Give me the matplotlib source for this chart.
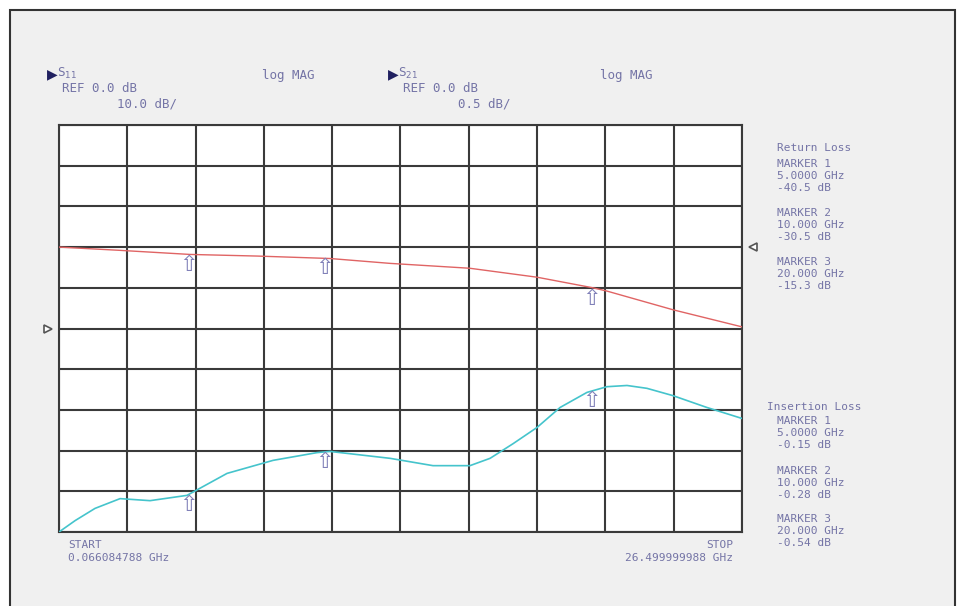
import numpy as np
import matplotlib
matplotlib.use("Agg")
import matplotlib.pyplot as plt
from matplotlib.patches import Rectangle
import matplotlib.transforms as mtransforms

# sweep (GHz)
f_start = 0.066084788
f_stop = 26.499999988

# S11 (return loss), 10 dB/div, ref 0 dB
s11_freq = [0.066, 0.69, 1.46, 2.43, 3.59, 5.02, 6.57, 8.35, 10.05, 10.55, 12.88, 14.54, 15.97,
            16.75, 17.64, 18.57, 19.46, 20.50, 21.27, 22.05, 22.82, 23.83, 25.14, 26.50]
s11_db = [-50.0, -47.2, -44.2, -41.8, -42.3, -41.0, -35.6, -32.4, -30.5, -30.2, -31.9, -33.7, -33.7,
          -31.9, -28.3, -24.3, -19.4, -15.7, -14.3, -14.0, -14.7, -16.5, -19.4, -22.1]

# S21 (insertion loss), 0.5 dB/div, ref 0 dB
s21_freq = [0.066, 2.43, 5.13, 7.73, 10.55, 12.88, 15.97, 18.57, 20.73, 21.27, 23.83, 26.50]
s21_db = [0.0, -0.04, -0.09, -0.11, -0.14, -0.20, -0.26, -0.37, -0.50, -0.54, -0.77, -0.98]

# markers
marker_pos = [5.06, 10.36, 20.66]
marker_s11_y = [-41.0, -30.4, -15.4]
marker_s21_y = [-0.10, -0.13, -0.52]
marker_freq_txt = ["5.0000 GHz", "10.000 GHz", "20.000 GHz"]
rl_txt = ["-40.5 dB", "-30.5 dB", "-15.3 dB"]
il_txt = ["-0.15 dB", "-0.28 dB", "-0.54 dB"]

txt_col = "#7474a6"
grid_col = "#3a3a3a"
mono = "DejaVu Sans Mono"
fs = 8

fig = plt.figure(figsize=(9.6, 6.06), dpi=100)
W, H = 960.0, 606.0

def fx(px):
    return px / W

def fy(py):
    return 1 - py / H

# outer frame
fig.patches.append(Rectangle((fx(10), -0.02), fx(945), fy(10) + 0.02, transform=fig.transFigure,
                             facecolor="#f0f0f0", edgecolor="#333333", lw=1.5, zorder=-5))

ax = fig.add_axes([fx(59), fy(532), fx(742 - 59), (532 - 125) / H])
ax.set_facecolor("white")
ax.set_xlim(f_start, f_stop)
ax.set_ylim(-50, 50)
ax.set_xticks(np.linspace(f_start, f_stop, 11))
ax.set_yticks(np.linspace(-50, 50, 11))
ax.grid(True, color=grid_col, lw=1.5)
ax.tick_params(length=0, labelbottom=False, labelleft=False)
for s in ax.spines.values():
    s.set_color(grid_col)
    s.set_linewidth(1.5)
ax.plot(s11_freq, s11_db, color="#45c4cc", lw=1.2, zorder=3)

ax2 = ax.twinx()
ax2.set_ylim(-3.5, 1.5)
ax2.tick_params(length=0, labelright=False)
for s in ax2.spines.values():
    s.set_visible(False)
ax2.patch.set_visible(False)
ax2.plot(s21_freq, s21_db, color="#e06464", lw=1.0, zorder=3)

# marker glyphs
for i in range(3):
    ax.text(marker_pos[i], marker_s11_y[i], "\u21e7", ha="center", va="top", fontsize=16,
            color="#8080b8", zorder=4)
    ax2.text(marker_pos[i], marker_s21_y[i], "\u21e7", ha="center", va="top", fontsize=16,
             color="#8080b8", zorder=4)

# reference position indicators
tl = mtransforms.blended_transform_factory(ax.transAxes, ax.transData)
ax.plot([-0.016], [0], marker=">", ms=6, mfc="white", mec="#555555", mew=1.2,
        transform=tl, clip_on=False)
tr = mtransforms.blended_transform_factory(ax2.transAxes, ax2.transData)
ax2.plot([1.016], [0], marker="<", ms=6, mfc="white", mec="#555555", mew=1.2,
         transform=tr, clip_on=False)

def t(px, py, s, ha="left", size=fs, **kw):
    fig.text(fx(px), fy(py), s, ha=ha, va="center", color=txt_col, fontsize=size,
             family=mono, **kw)

# headers
for x0, sub, scale in [(47, "11", "10.0 dB/"), (388, "21", "0.5 dB/")]:
    fig.text(fx(x0), fy(74), "\u25b6", color="#202060", fontsize=10, va="center", ha="left")
    t(x0 + 10, 73, "S$_{" + sub + "}$", size=9)
    t(x0 + 15, 89, "REF 0.0 dB", size=9)
    t(x0 + 70, 104, scale, size=9)
t(262, 75, "log MAG", size=9)
t(600, 75, "log MAG", size=9)

# marker readouts
t(777, 148, "Return Loss")
for i, y0 in enumerate([164, 213, 262]):
    t(777, y0, "MARKER %d" % (i + 1))
    t(777, y0 + 12, marker_freq_txt[i])
    t(777, y0 + 24, rl_txt[i])

t(767, 407, "Insertion Loss")
for i, y0 in enumerate([421, 471, 519]):
    t(777, y0, "MARKER %d" % (i + 1))
    t(777, y0 + 12, marker_freq_txt[i])
    t(777, y0 + 24, il_txt[i])

t(68, 545, "START")
t(68, 558, "%.9f GHz" % f_start)
t(733, 545, "STOP", ha="right")
t(733, 558, "%.9f GHz" % f_stop, ha="right")

fig.savefig("out.png", dpi=100)
